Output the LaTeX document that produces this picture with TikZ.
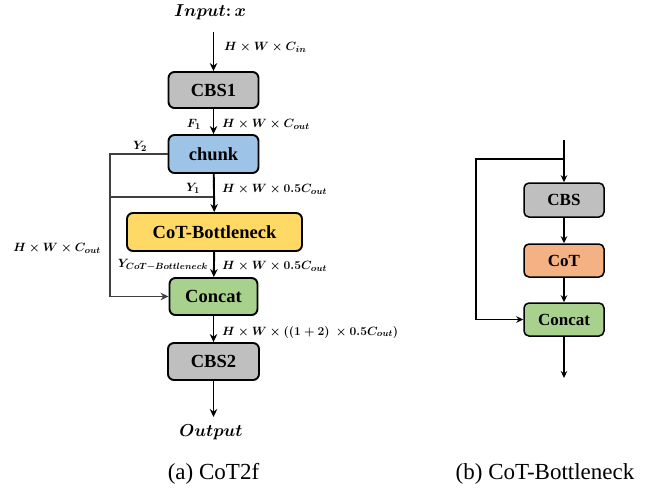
\documentclass[tikz,border=0pt]{standalone}
\usepackage[no-math]{fontspec}
\setmainfont{LiberationSerif}[Extension=.ttf, UprightFont=*-Regular, BoldFont=*-Bold, ItalicFont=*-Italic, BoldItalicFont=*-BoldItalic]
\usetikzlibrary{arrows.meta}

\definecolor{cbsgray}{HTML}{BFBFBF}
\definecolor{chunkblue}{HTML}{9DC3E6}
\definecolor{cotyellow}{HTML}{FFD966}
\definecolor{concatgreen}{HTML}{A9D18E}
\definecolor{cotorange}{HTML}{F4B183}
\definecolor{loopgray}{HTML}{404040}

\begin{document}
\begin{tikzpicture}[x=1pt,y=-1pt,
  blk/.style={draw=black, line width=1.9pt, rounded corners=6pt, inner sep=0pt,
    font=\fontsize{18.5}{20}\selectfont\bfseries},
  sblk/.style={draw=black, line width=1.5pt, rounded corners=5pt, inner sep=0pt,
    minimum width=80pt, minimum height=33pt,
    font=\fontsize{17}{19}\selectfont\bfseries},
  dim/.style={inner sep=0pt, font=\fontsize{13}{15}\selectfont\boldmath},
  iolab/.style={inner sep=0pt, font=\fontsize{17}{19}\selectfont\boldmath},
  captext/.style={inner sep=0pt, anchor=base, font=\fontsize{23}{27}\selectfont},
  flow/.style={line width=1.9pt, -{Stealth[length=8pt,width=7.5pt]}},
  loopline/.style={draw=loopgray, line width=1.9pt},
  loopflow/.style={draw=loopgray, line width=1.9pt, -{Stealth[length=8pt,width=7.5pt]}},
  sflow/.style={line width=1.5pt, -{Stealth[length=7pt,width=6.5pt]}}]

\useasboundingbox (0,0) rectangle (661,491);

% ---- (a) CoT2f ----
\node[iolab] (in) at (210,12.5) {$Input\colon x$};
\node[blk, fill=cbsgray, minimum width=90pt, minimum height=36pt] (cbs1) at (213.5,90) {CBS1};
\node[blk, fill=chunkblue, minimum width=90pt, minimum height=38pt] (chunk) at (213.5,154) {chunk};
\node[blk, fill=cotyellow, minimum width=175pt, minimum height=38pt] (cotb) at (214.5,232) {CoT-Bottleneck};
\node[blk, fill=concatgreen, minimum width=88pt, minimum height=37pt] (concat) at (213.5,296.5) {Concat};
\node[blk, fill=cbsgray, minimum width=91pt, minimum height=37pt] (cbs2) at (213.5,361.5) {CBS2};
\node[iolab] (out) at (211,432) {$Output$};

\coordinate (intop) at (213.5,32);
\coordinate (outend) at (213.5,417);
\coordinate (lx) at (110,0);
\coordinate (ysplit) at (213.5,197);

\draw[flow] (intop) -- (cbs1);
\draw[flow] (cbs1) -- (chunk);
\draw[loopline] (ysplit -| lx) -- (ysplit);
\draw[flow] (chunk) -- (cotb);
\draw[flow] (cotb) -- (concat);
\draw[flow] (concat) -- (cbs2);
\draw[flow] (cbs2) -- (outend);
\draw[loopflow] (chunk.west) -- (chunk.west -| lx) -- (concat.west -| lx) -- (concat.west);

\node[dim, anchor=west] (d1) at (224,47) {$H\times W\times C_{in}$};
\node[dim] (f1) at (194,124) {$F_1$};
\node[dim, anchor=west] (d2) at (222,124) {$H\times W\times C_{out}$};
\node[dim] (y2) at (140,146) {$Y_2$};
\node[dim] (y1) at (193,188) {$Y_1$};
\node[dim, anchor=west] (d3) at (222,189) {$H\times W\times 0.5C_{out}$};
\node[dim] (d4) at (57,248) {$H\times W\times C_{out}$};
\node[dim, anchor=east] (ycb) at (208,265) {$Y_{CoT-Bottleneck}$};
\node[dim, anchor=west] (d5) at (222,266) {$H\times W\times 0.5C_{out}$};
\node[dim, anchor=west] (d6) at (222,332) {$H\times W\times ((1+2)\ \times 0.5C_{out})$};

\node[captext] (capa) at (213.5,479.5) {(a) CoT2f};

% ---- (b) CoT-Bottleneck ----
\node[sblk, fill=cbsgray, minimum height=34pt] (cbs) at (564,200) {CBS};
\node[sblk, fill=cotorange] (cot) at (564,260.5) {CoT};
\node[sblk, fill=concatgreen] (cc) at (564,319.5) {Concat};

\coordinate (rtop) at (564,140);
\coordinate (rsplit) at (564,159);
\coordinate (rx) at (476,0);
\coordinate (rend) at (564,378);

\draw[sflow] (rtop) -- (cbs);
\draw[sflow] (rsplit) -- (rsplit -| rx) -- (cc.west -| rx) -- (cc.west);
\draw[sflow] (cbs) -- (cot);
\draw[sflow] (cot) -- (cc);
\draw[sflow] (cc) -- (rend);

\node[captext] (capb) at (545,479.5) {(b) CoT-Bottleneck};
\end{tikzpicture}
\end{document}
